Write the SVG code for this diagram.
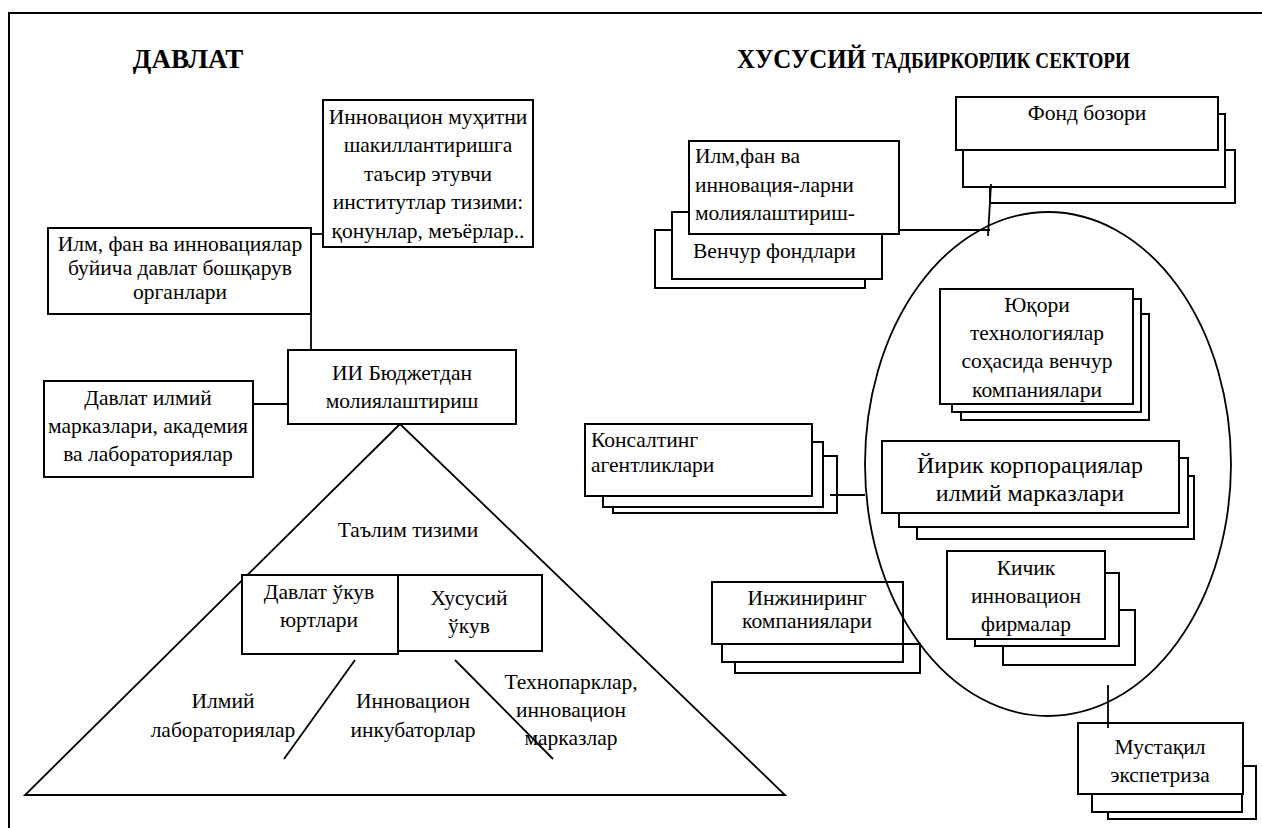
<svg xmlns="http://www.w3.org/2000/svg" width="1262" height="828" viewBox="0 0 1262 828">
<style>
.b{fill:#fff;stroke:#000;stroke-width:2}
.l{fill:none;stroke:#000;stroke-width:1.8}
.t{font-size:21.5px;fill:#000}
.c{text-anchor:middle}
.h{font-weight:bold;fill:#000}
</style>
<rect x="9" y="13" width="1400" height="900" fill="none" stroke="#000" stroke-width="2"/>
<g id="titles" font-family="Times New Roman, serif">
<text class="h" x="188" y="68" font-size="27" text-anchor="middle">ДАВЛАТ</text>
<text class="h" x="737" y="68" font-size="27" textLength="129" lengthAdjust="spacingAndGlyphs">ХУСУСИЙ</text>
<text class="h" x="872" y="68" font-size="24" textLength="258" lengthAdjust="spacingAndGlyphs">ТАДБИРКОРЛИК СЕКТОРИ</text>
</g>
<g id="triangle" font-family="Times New Roman, serif">
<polygon points="400,424 25,795 785,795" class="l"/>
<text class="t c" x="408" y="537">Таълим тизими</text>
</g>
<g id="innov" font-family="Times New Roman, serif">
<rect class="b" x="323" y="100" width="210" height="147"/>
<text class="t c" x="428" y="124">Инновацион муҳитни</text>
<text class="t c" x="428" y="152">шакиллантиришга</text>
<text class="t c" x="428" y="181">таъсир этувчи</text>
<text class="t c" x="428" y="209">институтлар тизими:</text>
<text class="t c" x="428" y="238">қонунлар, меъёрлар..</text>
</g>
<g id="ilm" font-family="Times New Roman, serif">
<rect class="b" x="48" y="228" width="263" height="86"/>
<text class="t c" x="180" y="251">Илм, фан ва инновациялар</text>
<text class="t c" x="180" y="275">буйича давлат бошқарув</text>
<text class="t c" x="180" y="299">органлари</text>
</g>
<g id="budget" font-family="Times New Roman, serif">
<rect class="b" x="288" y="350" width="228" height="74"/>
<text class="t c" x="402" y="380">ИИ Бюджетдан</text>
<text class="t c" x="402" y="408">молиялаштириш</text>
</g>
<g id="davlat-ilmiy" font-family="Times New Roman, serif">
<rect class="b" x="44" y="381" width="209" height="96"/>
<text class="t c" x="148" y="405">Давлат илмий</text>
<text class="t c" x="148" y="433">марказлари, академия</text>
<text class="t c" x="148" y="461">ва лабораториялар</text>
</g>
<g id="davlat-ukuv" font-family="Times New Roman, serif">
<rect class="b" x="242" y="575" width="156" height="79"/>
<text class="t c" x="319" y="599">Давлат ўкув</text>
<text class="t c" x="319" y="627">юртлари</text>
</g>
<g id="xususiy-ukuv" font-family="Times New Roman, serif">
<rect class="b" x="398" y="575" width="144" height="76"/>
<text class="t c" x="469" y="605">Хусусий</text>
<text class="t c" x="469" y="633">ўкув</text>
</g>
<g id="ilmiy-lab" font-family="Times New Roman, serif">
<text class="t c" x="223" y="708">Илмий</text>
<text class="t c" x="223" y="737">лабораториялар</text>
</g>
<g id="incub" font-family="Times New Roman, serif">
<text class="t c" x="413" y="708">Инновацион</text>
<text class="t c" x="413" y="737">инкубаторлар</text>
</g>
<g id="techno" font-family="Times New Roman, serif">
<text class="t c" x="571" y="689">Технопарклар,</text>
<text class="t c" x="571" y="717">инновацион</text>
<text class="t c" x="571" y="745">марказлар</text>
</g>
<g id="venture-funds" font-family="Times New Roman, serif">
<rect class="b" x="655" y="230" width="210" height="58"/>
<rect class="b" x="672" y="212" width="210" height="67"/>
<rect class="b" x="689" y="141" width="210" height="93"/>
<text class="t" x="695" y="163">Илм,фан ва</text>
<text class="t" x="695" y="192">инновация-ларни</text>
<text class="t" x="695" y="220">молиялаштириш-</text>
<text class="t" x="693" y="258">Венчур фондлари</text>
</g>
<g id="fond" font-family="Times New Roman, serif">
<rect class="b" x="990" y="150" width="245" height="53"/>
<rect class="b" x="963" y="114" width="262" height="73"/>
<rect class="b" x="956" y="97" width="262" height="53"/>
<text class="t c" x="1087" y="120">Фонд бозори</text>
</g>
<g id="konsalting" font-family="Times New Roman, serif">
<rect class="b" x="613" y="456" width="224" height="57"/>
<rect class="b" x="603" y="442" width="220" height="65"/>
<rect class="b" x="585" y="424" width="227" height="72"/>
<text class="t" x="591" y="447">Консалтинг</text>
<text class="t" x="591" y="472">агентликлари</text>
</g>
<g id="injiniring" font-family="Times New Roman, serif">
<rect class="b" x="735" y="644" width="185" height="29"/>
<rect class="b" x="722" y="600" width="181" height="62"/>
<rect class="b" x="712" y="582" width="191" height="62"/>
<text class="t c" x="807" y="605">Инжиниринг</text>
<text class="t c" x="807" y="628">компаниялари</text>
</g>
<g id="ellipse">
<ellipse cx="1048" cy="464" rx="183" ry="252" class="l"/>
</g>
<g id="yuqori" font-family="Times New Roman, serif">
<rect class="b" x="961" y="314" width="188" height="106"/>
<rect class="b" x="952" y="299" width="189" height="113"/>
<rect class="b" x="940" y="289" width="193" height="115"/>
<text class="t c" x="1037" y="312">Юқори</text>
<text class="t c" x="1037" y="340">технологиялар</text>
<text class="t c" x="1037" y="368">соҳасида венчур</text>
<text class="t c" x="1037" y="397">компаниялари</text>
</g>
<g id="yirik" font-family="Times New Roman, serif">
<rect class="b" x="917" y="476" width="277" height="63"/>
<rect class="b" x="899" y="458" width="289" height="69"/>
<rect class="b" x="882" y="441" width="297" height="72"/>
<text class="t c" x="1030" y="473" style="font-size:24px">Йирик корпорациялар</text>
<text class="t c" x="1030" y="501" style="font-size:24px">илмий марказлари</text>
</g>
<g id="kichik" font-family="Times New Roman, serif">
<rect class="b" x="1003" y="610" width="132" height="55"/>
<rect class="b" x="975" y="573" width="144" height="73"/>
<rect class="b" x="947" y="551" width="158" height="88"/>
<text class="t c" x="1026" y="575">Кичик</text>
<text class="t c" x="1026" y="603">инновацион</text>
<text class="t c" x="1026" y="631">фирмалар</text>
</g>
<g id="mustaqil" font-family="Times New Roman, serif">
<rect class="b" x="1108" y="766" width="148" height="53"/>
<rect class="b" x="1092" y="740" width="150" height="72"/>
<rect class="b" x="1078" y="723" width="165" height="71"/>
<text class="t c" x="1160" y="754">Мустақил</text>
<text class="t c" x="1160" y="782">экспетриза</text>
</g>
<g id="connectors" class="l">
<polyline points="311,234 323,234"/>
<polyline points="311,314 311,350"/>
<polyline points="253,404 288,404"/>
<line x1="355" y1="660" x2="284" y2="759"/>
<line x1="455" y1="660" x2="553" y2="759"/>
<polyline points="899,230 990,230"/>
<line x1="988" y1="236" x2="991" y2="184"/>
<line x1="830" y1="495" x2="865" y2="495"/>
<line x1="1108" y1="685" x2="1108" y2="728"/>
</g>
</svg>
